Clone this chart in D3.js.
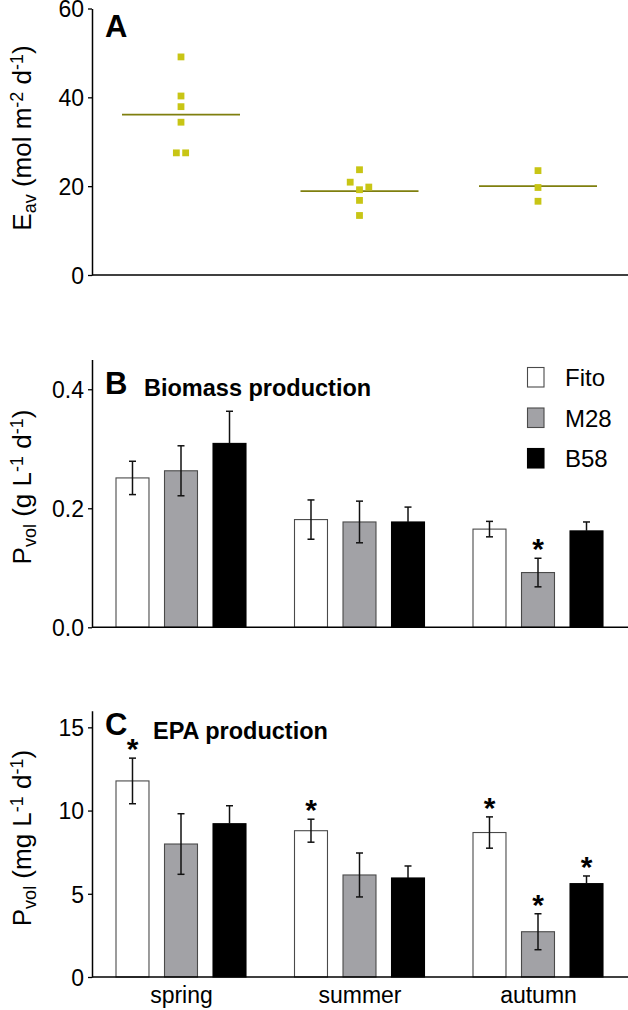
<!DOCTYPE html>
<html><head><meta charset="utf-8">
<script src="https://cdn.jsdelivr.net/npm/d3@7"></script>
<style>
html,body{margin:0;padding:0;background:#fff;}
svg{display:block;font-family:"Liberation Sans",Arial,Helvetica,sans-serif;}
</style></head><body>
<svg id="chart" width="628" height="1010"></svg>
<script>
// ---------- data ----------
const seasons = ["spring", "summer", "autumn"];
const strains = ["Fito", "M28", "B58"];

// Panel A: irradiance per culture (mol m-2 d-1)
const eavSpring = [49.1, 40.3, 37.9, 34.4, 27.5, 27.5];
const eavSummer = [23.7, 20.9, 19.8, 19.2, 16.8, 13.4];
const eavAutumn = [23.5, 19.7, 16.6];
// side-by-side slot of overlapping points (beeswarm rank)
const slotSpring = [0, 0, 0, 0, -0.5, 0.5];
const slotSummer = [0, -1, 1, 0, 0, 0];
const slotAutumn = [0, 0, 0];
const eavMean = [36.1, 18.9, 20.0];
const ticksA = [0, 20, 40, 60];

// Panel B: biomass production (g L-1 d-1) [spring, summer, autumn]
const bioFito = [0.251, 0.181, 0.165];
const bioM28  = [0.263, 0.177, 0.092];
const bioB58  = [0.309, 0.177, 0.162];
const bioErrFito = [0.028, 0.033, 0.013];
const bioErrM28  = [0.042, 0.035, 0.024];
const bioErrB58  = [0.054, 0.025, 0.015];
const bioSig = [["autumn","M28"]];
const ticksB = [0, 0.2, 0.4];

// Panel C: EPA production (mg L-1 d-1)
const epaFito = [11.78, 8.79, 8.68];
const epaM28  = [7.99, 6.13, 2.72];
const epaB58  = [9.21, 5.95, 5.61];
const epaErrFito = [1.37, 0.69, 0.94];
const epaErrM28  = [1.82, 1.32, 1.08];
const epaErrB58  = [1.08, 0.72, 0.46];
const epaSig = [["spring","Fito"],["summer","Fito"],["autumn","Fito"],["autumn","M28"],["autumn","B58"]];
const ticksC = [0, 5, 10, 15];

// ---------- layout ----------
const svg = d3.select("#chart");
const axisX = 92, rightX = 628;
const fills = {Fito:"#ffffff", M28:"#a2a2a6", B58:"#000000"};
const strokes = {Fito:"#4a4a4a", M28:"#4a4a4a", B58:"#000000"};

const xs = d3.scalePoint().domain(seasons).range([181, 538]);
const xb = d3.scaleBand().domain(strains).range([-65, 65]).paddingInner(0.32);

function yAxis(y, ticks, fmt) {
  const g = svg.append("g").attr("transform", `translate(${axisX},0)`)
    .call(d3.axisLeft(y).tickValues(ticks).tickFormat(fmt).tickSize(4).tickSizeOuter(0));
  g.select(".domain").attr("stroke", "#000").attr("stroke-width", 1.5);
  g.selectAll(".tick line").attr("stroke", "#000").attr("stroke-width", 1.3);
  g.selectAll(".tick text").attr("x", -8).attr("dy", "0.36em")
    .attr("font-size", 23).attr("fill", "#000");
  svg.append("line").attr("x1", axisX).attr("x2", rightX)
    .attr("y1", y(0)).attr("y2", y(0)).attr("stroke", "#000").attr("stroke-width", 1.5);
}

function yLabel(cy, parts) {
  const t = svg.append("text").attr("transform", `translate(31,${cy}) rotate(-90)`)
    .attr("text-anchor", "middle").attr("font-size", 26).attr("fill", "#000");
  parts.forEach(p => {
    const ts = t.append("tspan").text(p.t);
    if (p.sub) ts.attr("font-size", 18).attr("baseline-shift", "-25%");
    if (p.sup) ts.attr("font-size", 18).attr("baseline-shift", "45%");
  });
}

function panelTitle(letter, lx, ly, title, tx, ty) {
  svg.append("text").attr("x", lx).attr("y", ly).attr("font-weight", "bold")
    .attr("font-size", 31).text(letter);
  if (title) svg.append("text").attr("x", tx).attr("y", ty).attr("font-weight", "bold")
    .attr("font-size", 23.5).text(title);
}

// ---------- Panel A ----------
const yA = d3.scaleLinear().domain([0, 60]).range([275, 8.5]);
yAxis(yA, ticksA, d3.format("d"));
yLabel(138, [{t:"E"},{t:"av",sub:true},{t:" (mol m"},{t:"-2",sup:true},{t:" d"},{t:"-1",sup:true},{t:")"}]);
panelTitle("A", 105, 36.5);
const ptsA = [
  {s:"spring", v:eavSpring, k:slotSpring},
  {s:"summer", v:eavSummer, k:slotSummer},
  {s:"autumn", v:eavAutumn, k:slotAutumn}
];
svg.append("g").selectAll("line").data(seasons).join("line")
  .attr("x1", d => xs(d) - 59).attr("x2", d => xs(d) + 59)
  .attr("y1", (d,i) => yA(eavMean[i])).attr("y2", (d,i) => yA(eavMean[i]))
  .attr("stroke", "#7f7f0e").attr("stroke-width", 1.8);
ptsA.forEach(grp => {
  const data = grp.v.map((v,i) => ({v, k: grp.k[i]}));
  svg.append("g").selectAll("rect").data(data).join("rect")
    .attr("x", d => xs(grp.s) + d.k * 9.3 - 3.4)
    .attr("y", d => yA(d.v) - 3.4)
    .attr("width", 6.8).attr("height", 6.8)
    .attr("fill", "#c8c515");
});

// ---------- bar panels ----------
function barPanel(y, vals, errs, sig) {
  const data = [];
  seasons.forEach((s, i) => strains.forEach(k => data.push({s, k, v: vals[k][i], e: errs[k][i]})));
  const g = svg.append("g");
  g.selectAll("rect").data(data).join("rect")
    .attr("x", d => xs(d.s) + xb(d.k)).attr("width", xb.bandwidth())
    .attr("y", d => y(d.v)).attr("height", d => y(0) - y(d.v))
    .attr("fill", d => fills[d.k]).attr("stroke", d => strokes[d.k]).attr("stroke-width", 1.1);
  const eg = g.append("g").attr("stroke", "#111").attr("stroke-width", 1.5).attr("fill", "none");
  data.forEach(d => {
    const cx = xs(d.s) + xb(d.k) + xb.bandwidth() / 2;
    const top = y(d.v + d.e);
    const bot = d.k === "B58" ? y(d.v) : y(d.v - d.e);
    eg.append("line").attr("x1", cx).attr("x2", cx).attr("y1", top).attr("y2", bot);
    eg.append("line").attr("x1", cx - 3.5).attr("x2", cx + 3.5).attr("y1", top).attr("y2", top);
    if (d.k !== "B58") eg.append("line").attr("x1", cx - 3.5).attr("x2", cx + 3.5).attr("y1", bot).attr("y2", bot);
  });
  g.selectAll("text.sig").data(data.filter(d => sig.some(q => q[0] === d.s && q[1] === d.k)))
    .join("text").attr("class", "sig")
    .attr("x", d => xs(d.s) + xb(d.k) + xb.bandwidth() / 2)
    .attr("y", d => y(d.v + d.e) + 1)
    .attr("text-anchor", "middle").attr("font-weight", "bold").attr("font-size", 30).text("*");
}

// Panel B
const yB = d3.scaleLinear().domain([0, 0.45]).range([627.3, 359.5]);
barPanel(yB, {Fito: bioFito, M28: bioM28, B58: bioB58}, {Fito: bioErrFito, M28: bioErrM28, B58: bioErrB58}, bioSig);
yAxis(yB, ticksB, d3.format(".1f"));
yLabel(487, [{t:"P"},{t:"vol",sub:true},{t:" (g L"},{t:"-1",sup:true},{t:" d"},{t:"-1",sup:true},{t:")"}]);
panelTitle("B", 105, 394, "Biomass production", 144, 396);

// legend
const lg = svg.append("g");
strains.forEach((k, i) => {
  lg.append("rect").attr("x", 527.5).attr("y", 367.5 + i * 40.5).attr("width", 16.5).attr("height", 19.5)
    .attr("fill", fills[k]).attr("stroke", strokes[k]).attr("stroke-width", 1.1);
  lg.append("text").attr("font-size", 24).attr("x", 565).attr("y", 386 + i * 40.5).text(k);
});

// Panel C
const yC = d3.scaleLinear().domain([0, 16]).range([977, 710.7]);
barPanel(yC, {Fito: epaFito, M28: epaM28, B58: epaB58}, {Fito: epaErrFito, M28: epaErrM28, B58: epaErrB58}, epaSig);
yAxis(yC, ticksC, d3.format("d"));
yLabel(838, [{t:"P"},{t:"vol",sub:true},{t:" (mg L"},{t:"-1",sup:true},{t:" d"},{t:"-1",sup:true},{t:")"}]);
panelTitle("C", 105, 735, "EPA production", 153, 739);

// category axis
const xa = svg.append("g").attr("transform", "translate(0,977)")
  .call(d3.axisBottom(xs).tickSize(0).tickPadding(0));
xa.select(".domain").remove();
xa.selectAll(".tick text").attr("y", 26).attr("dy", null).attr("font-size", 23).attr("fill", "#000");
</script>
</body></html>
